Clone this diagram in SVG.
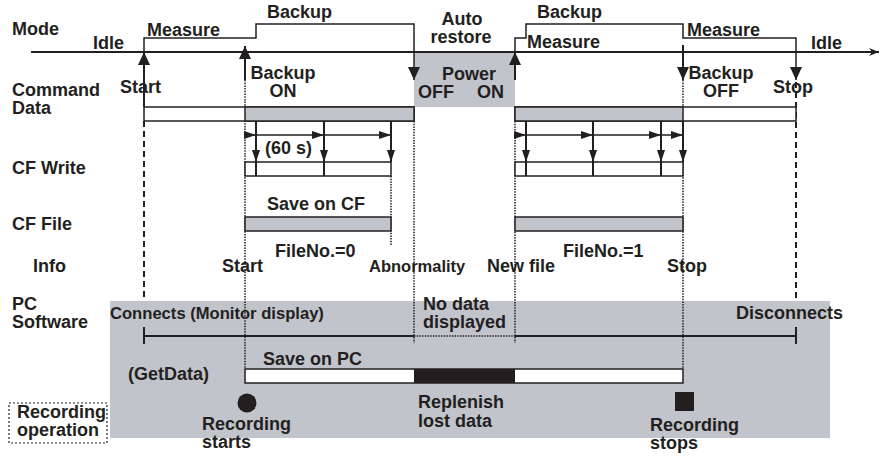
<svg xmlns="http://www.w3.org/2000/svg" width="880" height="456" viewBox="0 0 880 456">
<style>
text{font-family:"Liberation Sans",Arial,sans-serif;font-weight:bold;font-size:18px;fill:#231f20}
.c{text-anchor:middle}
.s{font-size:17px}
.ln{stroke:#231f20;stroke-width:2;fill:none}
.thin{stroke:#231f20;stroke-width:1.5;fill:none}
.bar{fill:#fff;stroke:#231f20;stroke-width:1.5}
.gbar{fill:#c2c4cb;stroke:#231f20;stroke-width:1.5}
.dot{stroke:#231f20;stroke-width:1.5;stroke-dasharray:1.5 1.2;fill:none}
.dash{stroke:#231f20;stroke-width:2;stroke-dasharray:6 4;fill:none}
.gray{fill:#c2c4cb}
</style>
<defs>
<marker id="big" viewBox="0 0 13 12" refX="13" refY="6" markerWidth="13" markerHeight="12" markerUnits="userSpaceOnUse" orient="auto"><path d="M0,0 L13,6 L0,12 z" fill="#231f20"/></marker>
<marker id="sm" viewBox="0 0 12 8" refX="12" refY="4" markerWidth="12" markerHeight="8" markerUnits="userSpaceOnUse" orient="auto"><path d="M0,0 L12,4 L0,8 z" fill="#231f20"/></marker>
<marker id="ax" viewBox="0 0 10 8" refX="10" refY="4" markerWidth="10" markerHeight="8" markerUnits="userSpaceOnUse" orient="auto"><path d="M0,0 L10,4 L0,8 L3,4 z" fill="#231f20"/></marker>
</defs>

<!-- background regions -->
<g id="pc-area"><rect x="110" y="301" width="720" height="137" class="gray"/></g>
<g id="power-area"><rect x="414" y="52" width="101" height="55" class="gray"/></g>

<!-- row labels -->
<g id="row-labels">
<text x="12" y="35">Mode</text>
<text x="12" y="96">Command</text>
<text x="12" y="114">Data</text>
<text x="12" y="174">CF Write</text>
<text x="12" y="230">CF File</text>
<text x="33" y="272">Info</text>
<text x="12" y="310">PC</text>
<text x="12" y="328">Software</text>
</g>

<g id="connectors">
<!-- mode axis -->
<line x1="31" y1="52" x2="879" y2="52" class="ln" marker-end="url(#ax)"/>
<!-- mode steps -->
<polyline points="144,52 144,38 256,38 256,24 414,24 414,80" class="thin" marker-end="url(#big)"/>
<polyline points="515,52 515,38 526,38 526,24 683,24 683,38 796,38 796,80" class="thin" marker-end="url(#big)"/>
<!-- event arrows -->
<line x1="144" y1="107" x2="144" y2="52" class="ln" marker-end="url(#big)"/>
<line x1="245" y1="80" x2="245" y2="46" class="ln" marker-end="url(#big)"/>
<line x1="515" y1="80" x2="515" y2="52" class="ln" marker-end="url(#big)"/>
<line x1="683" y1="45" x2="683" y2="80" class="ln" marker-end="url(#big)"/>
<!-- dashed / dotted timelines -->
<line x1="144" y1="121" x2="144" y2="301" class="dash"/>
<line x1="796" y1="82" x2="796" y2="301" class="dash"/>
<line x1="245" y1="80" x2="245" y2="369" class="dot"/>
<line x1="683" y1="80" x2="683" y2="369" class="dot"/>
<line x1="414" y1="121" x2="414" y2="343" class="dot"/>
<line x1="515" y1="121" x2="515" y2="343" class="dot"/>
<line x1="391" y1="176" x2="391" y2="245" class="dot"/>
<!-- CF write interval arrows -->
<line x1="245" y1="135" x2="256" y2="135" class="thin" marker-end="url(#sm)"/>
<line x1="256" y1="135" x2="324" y2="135" class="thin" marker-end="url(#sm)"/>
<line x1="324" y1="135" x2="391" y2="135" class="thin" marker-end="url(#sm)"/>
<line x1="515" y1="135" x2="526" y2="135" class="thin" marker-end="url(#sm)"/>
<line x1="526" y1="135" x2="593" y2="135" class="thin" marker-end="url(#sm)"/>
<line x1="593" y1="135" x2="661" y2="135" class="thin" marker-end="url(#sm)"/>
<line x1="661" y1="135" x2="683" y2="135" class="thin" marker-end="url(#sm)"/>
<line x1="256" y1="121" x2="256" y2="162" class="ln" marker-end="url(#sm)"/>
<line x1="324" y1="121" x2="324" y2="162" class="ln" marker-end="url(#sm)"/>
<line x1="391" y1="121" x2="391" y2="162" class="ln" marker-end="url(#sm)"/>
<line x1="526" y1="121" x2="526" y2="162" class="ln" marker-end="url(#sm)"/>
<line x1="593" y1="121" x2="593" y2="162" class="ln" marker-end="url(#sm)"/>
<line x1="661" y1="121" x2="661" y2="162" class="ln" marker-end="url(#sm)"/>
<line x1="683" y1="121" x2="683" y2="162" class="ln" marker-end="url(#sm)"/>
<!-- PC connection line -->
<line x1="144" y1="336" x2="414" y2="336" class="ln"/>
<line x1="414" y1="336" x2="515" y2="336" class="dot"/>
<line x1="515" y1="336" x2="796" y2="336" class="ln"/>
<line x1="144" y1="327" x2="144" y2="344" class="ln"/>
<line x1="796" y1="327" x2="796" y2="344" class="ln"/>
</g>

<!-- Command data bar -->
<g id="command-bar">
<rect x="144" y="107" width="270" height="14" class="bar"/>
<rect x="245" y="107" width="169" height="14" class="gbar"/>
<rect x="515" y="107" width="281" height="14" class="bar"/>
<rect x="515" y="107" width="168" height="14" class="gbar"/>
</g>

<!-- CF write boxes -->
<g id="cf-write">
<rect x="245" y="162" width="146" height="14" class="bar"/>
<line x1="256" y1="162" x2="256" y2="176" class="ln"/>
<line x1="324" y1="162" x2="324" y2="176" class="ln"/>
<rect x="515" y="162" width="168" height="14" class="bar"/>
<line x1="526" y1="162" x2="526" y2="176" class="ln"/>
<line x1="593" y1="162" x2="593" y2="176" class="ln"/>
<line x1="661" y1="162" x2="661" y2="176" class="ln"/>
<text x="265" y="154">(60 s)</text>
</g>

<!-- CF file bars -->
<g id="cf-file">
<rect x="245" y="217" width="146" height="14" class="gbar"/>
<rect x="515" y="217" width="168" height="14" class="gbar"/>
<text x="267" y="210">Save on CF</text>
<text x="275" y="257">FileNo.=0</text>
<text x="563" y="257">FileNo.=1</text>
</g>

<!-- Save on PC bar -->
<g id="pc-bar">
<rect x="245" y="369" width="438" height="14" class="bar"/>
<rect x="414" y="369" width="101" height="14" fill="#231f20"/>
<text x="263" y="365">Save on PC</text>
<text x="128" y="380">(GetData)</text>
</g>

<!-- mode labels -->
<g id="mode-labels">
<text x="93" y="49">Idle</text>
<text x="147" y="36">Measure</text>
<text x="267" y="18">Backup</text>
<text x="462" y="25" class="c">Auto</text>
<text x="461" y="43" class="c">restore</text>
<text x="537" y="18">Backup</text>
<text x="527" y="48">Measure</text>
<text x="687" y="36">Measure</text>
<text x="811" y="49">Idle</text>
</g>

<!-- command labels -->
<g id="command-labels">
<text x="120" y="93">Start</text>
<text x="283" y="79" class="c">Backup</text>
<text x="283" y="97" class="c">ON</text>
<text x="442" y="80">Power</text>
<text x="418" y="98">OFF</text>
<text x="477" y="98">ON</text>
<text x="721" y="79" class="c">Backup</text>
<text x="721" y="97" class="c">OFF</text>
<text x="773" y="93">Stop</text>
</g>

<!-- info labels -->
<g id="info-labels">
<text x="222" y="272">Start</text>
<text x="369" y="272" style="font-size:16.5px">Abnormality</text>
<text x="487" y="272">New file</text>
<text x="667" y="272">Stop</text>
</g>

<!-- PC labels -->
<g id="pc-labels">
<text x="110" y="319" style="font-size:16.6px">Connects (Monitor display)</text>
<text x="423" y="310">No data</text>
<text x="423" y="328">displayed</text>
<text x="736" y="319">Disconnects</text>
</g>

<!-- recording markers -->
<g id="rec-start">
<circle cx="247" cy="403" r="9.5" fill="#231f20"/>
<text x="202" y="430">Recording</text>
<text x="202" y="448">starts</text>
</g>
<g id="replenish">
<text x="418" y="408">Replenish</text>
<text x="418" y="427">lost data</text>
</g>
<g id="rec-stop">
<rect x="675" y="392" width="19" height="19" fill="#231f20"/>
<text x="650" y="431">Recording</text>
<text x="650" y="449">stops</text>
</g>
<g id="rec-op">
<rect x="9" y="403" width="98" height="40" fill="none" stroke="#231f20" stroke-width="1.2" stroke-dasharray="2 2"/>
<text x="17" y="418">Recording</text>
<text x="17" y="436">operation</text>
</g>
</svg>
